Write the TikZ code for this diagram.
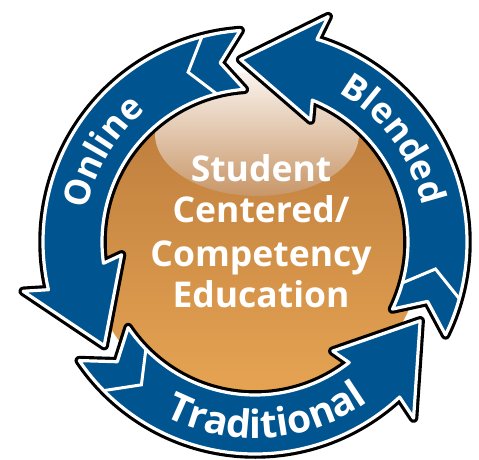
\documentclass[tikz,border=0pt]{standalone}
\usepackage{fontspec}
\setmainfont{Open Sans}
\usetikzlibrary{decorations.text}
\definecolor{ringblue}{RGB}{0,84,144}
\definecolor{orangetop}{RGB}{184,120,58}
\definecolor{orangebot}{RGB}{232,166,84}
\definecolor{hitop}{RGB}{250,244,238}
\definecolor{hibot}{RGB}{200,150,104}
\newcommand{\arcfont}{\fontsize{35.5}{38}\selectfont\bfseries}
\newcommand{\bigarcfont}{\fontsize{39}{40}\selectfont\bfseries}
\newcommand{\midfont}{\fontsize{35.5}{40}\selectfont\bfseries}
\tikzset{
  outlineblack/.style={draw=black, line width=9.5pt, line join=round},
  outlinewhite/.style={draw=white, line width=3.2pt, line join=round, fill=ringblue},
  fletch/.style={draw=white, line width=3pt},
  arctext/.style 2 args={decorate, decoration={text along path, text color=white, text align=center, text={|#1|#2}}},
  midtext/.style={text=white, font=\midfont, anchor=base, inner sep=0pt}
}
\begin{document}
\begin{tikzpicture}
\useasboundingbox (-255pt,-218pt) rectangle (224pt,242pt);
% central disk
\shade[top color=orangetop, bottom color=orangebot] (0,0) circle[radius=168pt];
\shade[top color=hitop, bottom color=hibot] (2pt,108pt) ellipse[x radius=102pt, y radius=62pt];
% three arrows: Blended, Traditional, Online
\foreach \r in {-120,120,0} {
  \begin{scope}[rotate=\r]
    \path[outlineblack] (94:212pt) arc[start angle=94, end angle=193, radius=212pt] -- (192:237pt) -- (214.5:183pt) -- (185.5:134pt) -- (188:153pt) arc[start angle=188, end angle=94, radius=153pt] -- (101:182.5pt) -- cycle;
    \path[outlinewhite] (94:212pt) arc[start angle=94, end angle=193, radius=212pt] -- (192:237pt) -- (214.5:183pt) -- (185.5:134pt) -- (188:153pt) arc[start angle=188, end angle=94, radius=153pt] -- (101:182.5pt) -- cycle;
    \path[fletch] (104.5:212pt) -- (111.5:182.5pt) -- (104.5:153pt);
  \end{scope}
}
% ring labels
\path[arctext={\arcfont}{Online}] (199.5:171pt) arc[start angle=199.5, end angle=99.5, radius=171pt];
\path[arctext={\arcfont}{Blended}] (86.5:171pt) arc[start angle=86.5, end angle=-13.5, radius=171pt];
\path[arctext={\bigarcfont}{Traditional}] (214:196pt) arc[start angle=214, end angle=334, radius=196pt];
% centre text
\node[midtext] (l1) at (6pt,60pt) {Student};
\node[midtext] (l2) at (6pt,19pt) {Centered/};
\node[midtext] (l3) at (6pt,-25pt) {Competency};
\node[midtext] (l4) at (6pt,-65pt) {Education};
\end{tikzpicture}
\end{document}
